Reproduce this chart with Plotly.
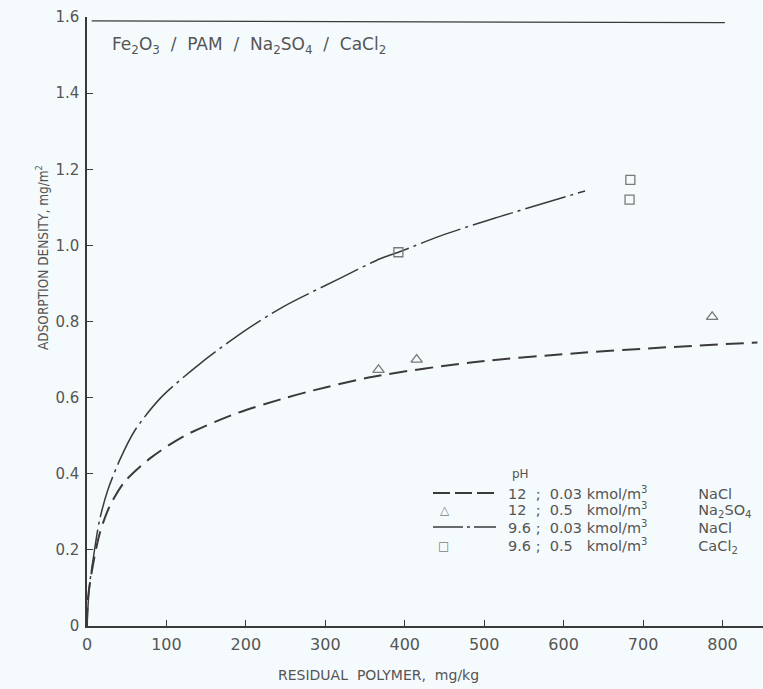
import plotly.graph_objects as go

# Dashed curve: pH 12 ; 0.03 kmol/m3 NaCl
dash_x = [0, 1, 7, 16, 28, 47, 81, 123, 186, 248, 285, 360, 486, 612, 720, 844]
dash_y = [0.0, 0.068, 0.155, 0.243, 0.312, 0.378, 0.443, 0.50, 0.557, 0.598, 0.619, 0.655, 0.693, 0.716, 0.731, 0.745]

# Triangles: pH 12 ; 0.5 kmol/m3 Na2SO4
tri_x = [367, 415, 787]
tri_y = [0.673, 0.70, 0.812]

# Dash-dot curve: pH 9.6 ; 0.03 kmol/m3 NaCl
dd_x = [0, 3, 9.4, 15.7, 26, 41, 60, 93, 144, 198, 248, 319, 369, 392, 445, 508, 627]
dd_y = [0.0, 0.103, 0.199, 0.277, 0.356, 0.435, 0.513, 0.60, 0.692, 0.775, 0.84, 0.914, 0.965, 0.982, 1.025, 1.068, 1.143]

# Squares: pH 9.6 ; 0.5 kmol/m3 CaCl2
sq_x = [392, 683, 684]
sq_y = [0.982, 1.12, 1.172]

x_ticks = [0, 100, 200, 300, 400, 500, 600, 700, 800]
y_ticks = [0, 0.2, 0.4, 0.6, 0.8, 1.0, 1.2, 1.4, 1.6]
y_tick_text = ["0", "0.2", "0.4", "0.6", "0.8", "1.0", "1.2", "1.4", "1.6"]

NB = "\u00a0"
GAP = NB * 11
legend_labels = [
    f"12{NB}{NB};{NB}{NB}0.03{NB}kmol/m<sup>3</sup>{GAP}NaCl",
    f"12{NB}{NB};{NB}{NB}0.5{NB}{NB}{NB}kmol/m<sup>3</sup>{GAP}Na<sub>2</sub>SO<sub>4</sub>",
    f"9.6{NB};{NB}{NB}0.03{NB}kmol/m<sup>3</sup>{GAP}NaCl",
    f"9.6{NB};{NB}{NB}0.5{NB}{NB}{NB}kmol/m<sup>3</sup>{GAP}CaCl<sub>2</sub>",
]

FONT = "DejaVu Sans"
TXT = "#555555"
LINE = "#3a3a3a"
MK = "#7a7a7a"
BG = "#f5fbfd"

DASH = "18px,8px"
DASHDOT = "42px,5px,3px,5px"

fig = go.Figure()
fig.add_trace(go.Scatter(x=dash_x, y=dash_y, mode="lines", name="dash",
                         line=dict(color=LINE, width=2, dash=DASH, shape="spline", smoothing=0.8)))
fig.add_trace(go.Scatter(x=tri_x, y=tri_y, mode="markers", name="tri",
                         marker=dict(symbol="triangle-up-open", size=10, color=MK,
                                     line=dict(width=1.3))))
fig.add_trace(go.Scatter(x=dd_x, y=dd_y, mode="lines", name="dashdot",
                         line=dict(color=LINE, width=1.5, dash=DASHDOT, shape="spline", smoothing=0.8)))
fig.add_trace(go.Scatter(x=sq_x, y=sq_y, mode="markers", name="sq",
                         marker=dict(symbol="square-open", size=9, color=MK,
                                     line=dict(width=1.3))))

# plot area: x from 87px to 763px, y from 17px to 626px
L, T, PW, PH = 87, 17, 676, 609


def px(xp):
    return (xp - L) / PW


def py(yp):
    return (T + PH - yp) / PH


row_y = [493, 510, 527, 546]
shapes = [
    dict(type="line", xref="x", yref="y", x0=6, x1=803, y0=1.59, y1=1.585,
         line=dict(color=LINE, width=1.3)),
    # legend keys
    dict(type="line", xref="paper", yref="paper", x0=px(433), x1=px(496), y0=py(row_y[0]), y1=py(row_y[0]),
         line=dict(color=LINE, width=2, dash="17px,5px")),
    dict(type="line", xref="paper", yref="paper", x0=px(433), x1=px(496), y0=py(row_y[2]), y1=py(row_y[2]),
         line=dict(color=LINE, width=1.5, dash="30px,4px,3px,4px")),
]

S2 = NB * 2
annotations = [
    dict(text=f"Fe<sub>2</sub>O<sub>3</sub>{S2}/{S2}PAM{S2}/{S2}Na<sub>2</sub>SO<sub>4</sub>{S2}/{S2}CaCl<sub>2</sub>",
         xref="paper", yref="paper", x=px(110), y=py(45), xanchor="left", yanchor="middle",
         showarrow=False, font=dict(size=17, color=TXT)),
    dict(text=f"RESIDUAL{NB}{NB}POLYMER,{NB}{NB}mg/kg", xref="paper", yref="paper", x=px(378), y=py(675),
         xanchor="center", yanchor="middle", showarrow=False, font=dict(size=14, color=TXT)),
    dict(text="ADSORPTION DENSITY, mg/m<sup>2</sup>", xref="paper", yref="paper",
         x=px(42), y=py(257), xanchor="center", yanchor="middle", textangle=-90,
         showarrow=False, font=dict(size=13.5, color=TXT, family="DejaVu Sans Condensed, Roboto")),
    dict(text="pH", xref="paper", yref="paper", x=px(510), y=py(474), xanchor="left",
         yanchor="middle", showarrow=False, font=dict(size=12, color=TXT)),
    dict(text="\u25b3", xref="paper", yref="paper", x=px(445), y=py(row_y[1]), xanchor="center",
         yanchor="middle", showarrow=False, font=dict(size=12, color=MK)),
    dict(text="\u25a1", xref="paper", yref="paper", x=px(443), y=py(row_y[3]), xanchor="center",
         yanchor="middle", showarrow=False, font=dict(size=12, color=MK)),
]
for lab, ry in zip(legend_labels, row_y):
    annotations.append(dict(text=lab, xref="paper", yref="paper", x=px(506), y=py(ry),
                            xanchor="left", yanchor="middle", showarrow=False,
                            font=dict(size=14.5, color=TXT)))

fig.update_layout(
    width=763, height=689,
    margin=dict(l=L, r=0, t=T, b=689 - T - PH),
    paper_bgcolor=BG, plot_bgcolor=BG,
    font=dict(family=FONT, color=TXT, size=14),
    showlegend=False,
    xaxis=dict(range=[0, 851], tickvals=x_ticks, ticks="inside", ticklen=6,
               tickcolor=LINE, showline=True, linecolor=LINE, linewidth=1.5,
               showgrid=False, zeroline=False, tickfont=dict(size=16, color=TXT),
               ticklabelstandoff=3),
    yaxis=dict(range=[0, 1.6], tickvals=y_ticks, ticktext=y_tick_text, ticks="inside",
               ticklen=6, tickcolor=LINE, showline=True, linecolor=LINE, linewidth=1.5,
               showgrid=False, zeroline=False, tickfont=dict(size=15, color=TXT),
               ticklabelstandoff=3),
    shapes=shapes,
    annotations=annotations,
)

fig.write_html("out.html")
